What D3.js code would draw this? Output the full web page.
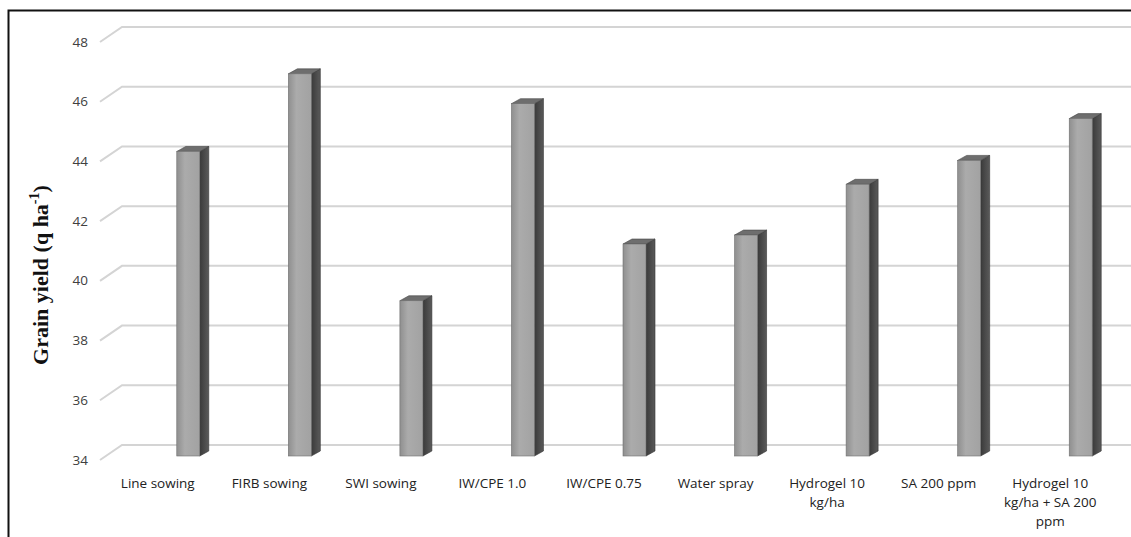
<!DOCTYPE html>
<html>
<head>
<meta charset="utf-8">
<script src="https://cdn.jsdelivr.net/npm/d3@7"></script>
<style>
    body { margin: 0; background: #fff; }
    #chart { width: 1131px; height: 537px; }
</style>
</head>
<body>
<div id="chart"></div>
<script>
// chart data
const categories = [
    ['Line sowing'],
    ['FIRB sowing'],
    ['SWI sowing'],
    ['IW/CPE 1.0'],
    ['IW/CPE 0.75'],
    ['Water spray'],
    ['Hydrogel 10', 'kg/ha'],
    ['SA 200 ppm'],
    ['Hydrogel 10', 'kg/ha + SA 200', 'ppm'],
]
const grainYield = [44.2, 46.8, 39.2, 45.8, 41.1, 41.4, 43.1, 43.9, 45.3]
const yTicks = [34, 36, 38, 40, 42, 44, 46, 48]
const yTitle = 'Grain yield (q ha'
const yTitleSup = '-1'

const width = 1131
const height = 537

// 3d offsets of the floor / walls
const depth = { dx: 22, dy: -15 }
const barDepth = { dx: 9, dy: -5 }

const svg = d3
    .select('#chart')
    .append('svg')
    .attr('width', width)
    .attr('height', height)

// frame
svg.append('rect')
    .attr('x', 8.5)
    .attr('y', 10.5)
    .attr('width', width + 20)
    .attr('height', height + 20)
    .attr('fill', 'none')
    .attr('stroke', '#111')
    .attr('stroke-width', 2)

// x scale (front plane)
const x = d3
    .scaleBand()
    .domain(d3.range(categories.length))
    .range([102, 1106])

// y scales: front edge, back wall and the plane the bars sit in
const yFront = d3.scaleLinear().domain([34, 48]).range([460, 42])
const yBack = d3.scaleLinear().domain([34, 48]).range([460 + depth.dy, 42 + depth.dy])
const yBar = d3.scaleLinear().domain([34, 48]).range([456, 38])

// gridlines on the back wall plus the diagonal on the side wall
const grid = svg.append('g')
grid.selectAll('path')
    .data(yTicks)
    .enter()
    .append('path')
    .attr('fill', 'none')
    .attr('stroke', '#d4d4d4')
    .attr('stroke-width', 2)
    .attr('d', (d) => `M100,${yFront(d)}L${100 + depth.dx},${yBack(d)}L${width},${yBack(d)}`)

// y tick labels
svg.append('g')
    .selectAll('text')
    .data(yTicks)
    .enter()
    .append('text')
    .attr('x', 88)
    .attr('y', (d) => yFront(d) + 1)
    .attr('text-anchor', 'end')
    .attr('dominant-baseline', 'middle')
    .style('font-family', 'Open Sans, Liberation Sans, sans-serif')
    .style('font-size', '13.5px')
    .attr('fill', '#404040')
    .text((d) => d)

// y axis title
const title = svg.append('text')
    .attr('transform', 'translate(48,275) rotate(-90)')
    .attr('text-anchor', 'middle')
    .style('font-family', 'Liberation Serif, Times New Roman, serif')
    .style('font-weight', 'bold')
    .style('font-size', '22px')
    .attr('fill', '#111')
title.append('tspan').text(yTitle)
title.append('tspan').attr('dy', -9).style('font-size', '14px').text(yTitleSup)
title.append('tspan').attr('dy', 9).text(')')

// gradient for the front face
const defs = svg.append('defs')
const grad = defs.append('linearGradient')
    .attr('id', 'bar-front')
    .attr('x1', '0%').attr('x2', '100%')
    .attr('y1', '0%').attr('y2', '0%')
grad.append('stop').attr('offset', '0%').attr('stop-color', '#8f8f8f')
grad.append('stop').attr('offset', '35%').attr('stop-color', '#ababab')
grad.append('stop').attr('offset', '100%').attr('stop-color', '#a2a2a2')

const sideGrad = defs.append('linearGradient')
    .attr('id', 'bar-side')
    .attr('x1', '0%').attr('x2', '100%')
    .attr('y1', '0%').attr('y2', '0%')
sideGrad.append('stop').attr('offset', '0%').attr('stop-color', '#3a3a3a')
sideGrad.append('stop').attr('offset', '100%').attr('stop-color', '#5a5a5a')

// bars
const barW = 23
const bars = svg.append('g')
    .selectAll('g')
    .data(grainYield)
    .enter()
    .append('g')

const barLeft = (i) => x(i) + x.bandwidth() / 2 + 19

bars.append('path')
    .attr('fill', 'url(#bar-side)')
    .attr('stroke', '#333')
    .attr('stroke-width', 0.6)
    .attr('d', (d, i) => {
        const x0 = barLeft(i) + barW
        return `M${x0},${yBar(d)}L${x0 + barDepth.dx},${yBar(d) + barDepth.dy}` +
            `L${x0 + barDepth.dx},${yBar(34) + barDepth.dy}L${x0},${yBar(34)}Z`
    })

bars.append('path')
    .attr('fill', '#6e6e6e')
    .attr('stroke', '#444')
    .attr('stroke-width', 0.6)
    .attr('d', (d, i) => {
        const x0 = barLeft(i)
        return `M${x0},${yBar(d)}L${x0 + barDepth.dx},${yBar(d) + barDepth.dy}` +
            `L${x0 + barW + barDepth.dx},${yBar(d) + barDepth.dy}L${x0 + barW},${yBar(d)}Z`
    })

bars.append('rect')
    .attr('x', (d, i) => barLeft(i))
    .attr('y', (d) => yBar(d))
    .attr('width', barW)
    .attr('height', (d) => yBar(34) - yBar(d))
    .attr('fill', 'url(#bar-front)')
    .attr('stroke', '#707070')
    .attr('stroke-width', 0.6)

// category labels
const labels = svg.append('g')
    .selectAll('text')
    .data(categories)
    .enter()
    .append('text')
    .attr('x', (d, i) => x(i) + x.bandwidth() / 2)
    .attr('y', 488)
    .attr('text-anchor', 'middle')
    .style('font-family', 'Open Sans, Liberation Sans, sans-serif')
    .style('font-size', '13.5px')
    .attr('fill', '#222')

labels.selectAll('tspan')
    .data((d) => d)
    .enter()
    .append('tspan')
    .attr('x', function () { return d3.select(this.parentNode).attr('x') })
    .attr('dy', (d, i) => (i === 0 ? 0 : 19))
    .text((d) => d)
</script>
</body>
</html>
